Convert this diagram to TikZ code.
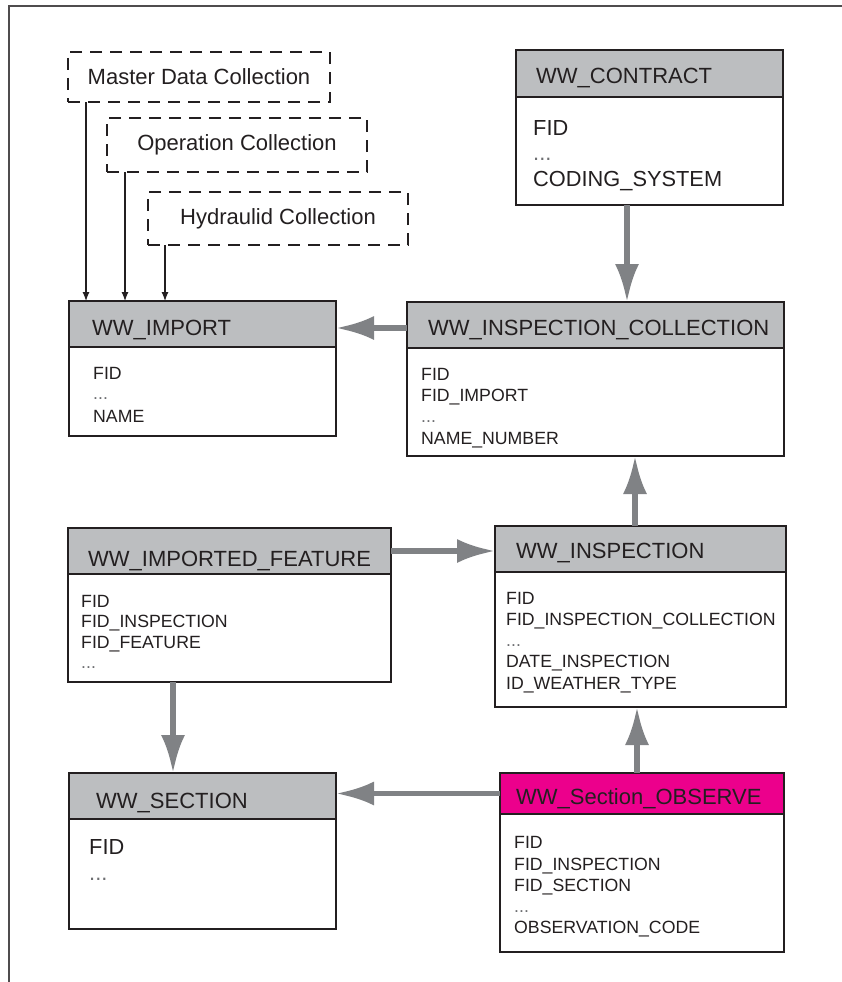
\documentclass[tikz,border=0pt]{standalone}
\usepackage{fontspec}
\setmainfont{Liberation Sans}
\usetikzlibrary{arrows.meta,calc}
\definecolor{hdrgray}{HTML}{BCBEC0}
\definecolor{arrgray}{HTML}{808285}
\definecolor{magentahdr}{HTML}{EC008C}
\definecolor{ink}{HTML}{231F20}
\definecolor{dotgray}{HTML}{6D6E71}
\begin{document}
\begin{tikzpicture}[x=1pt,y=-1pt,
  box/.style={draw=ink,line width=1.6pt,inner sep=0pt,outer sep=0pt,anchor=north west},
  hdr/.style={box,fill=hdrgray},
  hdrm/.style={box,fill=magentahdr},
  tbody/.style={box,fill=white},
  srcbox/.style={draw=ink,line width=1.6pt,dash pattern=on 12pt off 8pt,fill=white,
    inner sep=0pt,outer sep=0pt,anchor=north west,text=ink,font=\fontsize{22}{24}\selectfont},
  ttl/.style={anchor=base west,inner sep=0pt,text=ink,font=\fontsize{22}{24}\selectfont},
  fld/.style={anchor=base west,inner sep=0pt,text=ink,font=\fontsize{17.7}{20}\selectfont},
  fldl/.style={anchor=base west,inner sep=0pt,text=ink,font=\fontsize{21.8}{24}\selectfont},
  dotsm/.style={fld,text=dotgray},
  dotsl/.style={fldl,text=dotgray},
  bigarrow/.style={draw=arrgray,line width=5.5pt,-{Latex[length=38pt,width=24pt]}},
  feed/.style={draw=ink,line width=1.2pt,-{Latex[length=9pt,width=7pt]}},
  frame/.style={draw=ink!80,line width=1.4pt}
]
\useasboundingbox (0,0) rectangle (842,982);
\draw[frame] (9,982) -- (9,6) -- (842,6);

% source collections
\node[srcbox,minimum width=262pt,minimum height=50pt] (mdc) at (68,52) {Master Data Collection};
\node[srcbox,minimum width=260pt,minimum height=54pt] (opc) at (107,118) {Operation Collection};
\node[srcbox,minimum width=260pt,minimum height=53pt] (hyc) at (148,192) {Hydraulid Collection};

% WW_CONTRACT
\node[hdr,minimum width=267pt,minimum height=47pt] (cth) at (516,50) {};
\node[tbody,minimum width=267pt,minimum height=108pt] (ctb) at (516,97) {};
\node[ttl] (ctt) at (536,83) {WW\_CONTRACT};
\node[fldl] (ct1) at (533,135) {FID};
\node[dotsl] (ct2) at (533,160) {...};
\node[fldl] (ct3) at (533,186) {CODING\_SYSTEM};

% WW_IMPORT
\node[hdr,minimum width=267pt,minimum height=46pt] (imph) at (69,301) {};
\node[tbody,minimum width=267pt,minimum height=89pt] (impb) at (69,347) {};
\node[ttl] (impt) at (92,335) {WW\_IMPORT};
\node[fld] (imp1) at (93,379) {FID};
\node[dotsm] (imp2) at (93,399) {...};
\node[fld] (imp3) at (93,422) {NAME};

% WW_INSPECTION_COLLECTION
\node[hdr,minimum width=377pt,minimum height=46pt] (colh) at (407,302) {};
\node[tbody,minimum width=377pt,minimum height=108pt] (colb) at (407,348) {};
\node[ttl] (colt) at (428,335) {WW\_INSPECTION\_COLLECTION};
\node[fld] (col1) at (421,380) {FID};
\node[fld] (col2) at (421,401) {FID\_IMPORT};
\node[dotsm] (col3) at (421,422) {...};
\node[fld] (col4) at (421,444) {NAME\_NUMBER};

% WW_IMPORTED_FEATURE
\node[hdr,minimum width=323pt,minimum height=46pt] (feath) at (68,528) {};
\node[tbody,minimum width=323pt,minimum height=108pt] (featb) at (68,574) {};
\node[ttl] (featt) at (88,566) {WW\_IMPORTED\_FEATURE};
\node[fld] (feat1) at (81,607) {FID};
\node[fld] (feat2) at (81,627) {FID\_INSPECTION};
\node[fld] (feat3) at (81,648) {FID\_FEATURE};
\node[dotsm] (feat4) at (81,668) {...};

% WW_INSPECTION
\node[hdr,minimum width=291pt,minimum height=46pt] (insph) at (495,526) {};
\node[tbody,minimum width=291pt,minimum height=135pt] (inspb) at (495,572) {};
\node[ttl] (inspt) at (516,558) {WW\_INSPECTION};
\node[fld] (insp1) at (506,604) {FID};
\node[fld] (insp2) at (506,625) {FID\_INSPECTION\_COLLECTION};
\node[dotsm] (insp3) at (506,646) {...};
\node[fld] (insp4) at (506,667) {DATE\_INSPECTION};
\node[fld] (insp5) at (506,689) {ID\_WEATHER\_TYPE};

% WW_SECTION
\node[hdr,minimum width=267pt,minimum height=46pt] (sech) at (69,773) {};
\node[tbody,minimum width=267pt,minimum height=110pt] (secb) at (69,819) {};
\node[ttl] (sect) at (96,808) {WW\_SECTION};
\node[fldl] (sec1) at (89,854) {FID};
\node[dotsl] (sec2) at (89,880) {...};

% WW_Section_OBSERVE
\node[hdrm,minimum width=284pt,minimum height=41pt] (obsh) at (500,773) {};
\node[tbody,minimum width=284pt,minimum height=138pt] (obsb) at (500,814) {};
\node[ttl] (obst) at (516,804) {WW\_Section\_OBSERVE};
\node[fld] (obs1) at (514,848) {FID};
\node[fld] (obs2) at (514,870) {FID\_INSPECTION};
\node[fld] (obs3) at (514,891) {FID\_SECTION};
\node[dotsm] (obs4) at (514,912) {...};
\node[fld] (obs5) at (514,933) {OBSERVATION\_CODE};

% thin feeds
\draw[feed] ([xshift=18pt]mdc.south west) -- ([xshift=18pt]mdc.south west |- imph.north);
\draw[feed] ([xshift=18pt]opc.south west) -- ([xshift=18pt]opc.south west |- imph.north);
\draw[feed] ([xshift=17pt]hyc.south west) -- ([xshift=17pt]hyc.south west |- imph.north);

% gray relations
\draw[bigarrow] ([xshift=111pt]ctb.south west) -- ([xshift=111pt]ctb.south west |- colh.north);
\draw[bigarrow] ([yshift=-3pt]colh.west) -- ([yshift=-3pt]colh.west -| imph.east);
\draw[bigarrow] ([xshift=140pt]insph.north west) -- ([xshift=140pt]insph.north west |- colb.south);
\draw[bigarrow] (feath.east) -- (feath.east -| insph.west);
\draw[bigarrow] ([xshift=105pt]featb.south west) -- ([xshift=105pt]featb.south west |- sech.north);
\draw[bigarrow] ([xshift=137pt]obsh.north west) -- ([xshift=137pt]obsh.north west |- inspb.south);
\draw[bigarrow] (obsh.west) -- (obsh.west -| sech.east);
\end{tikzpicture}
\end{document}
